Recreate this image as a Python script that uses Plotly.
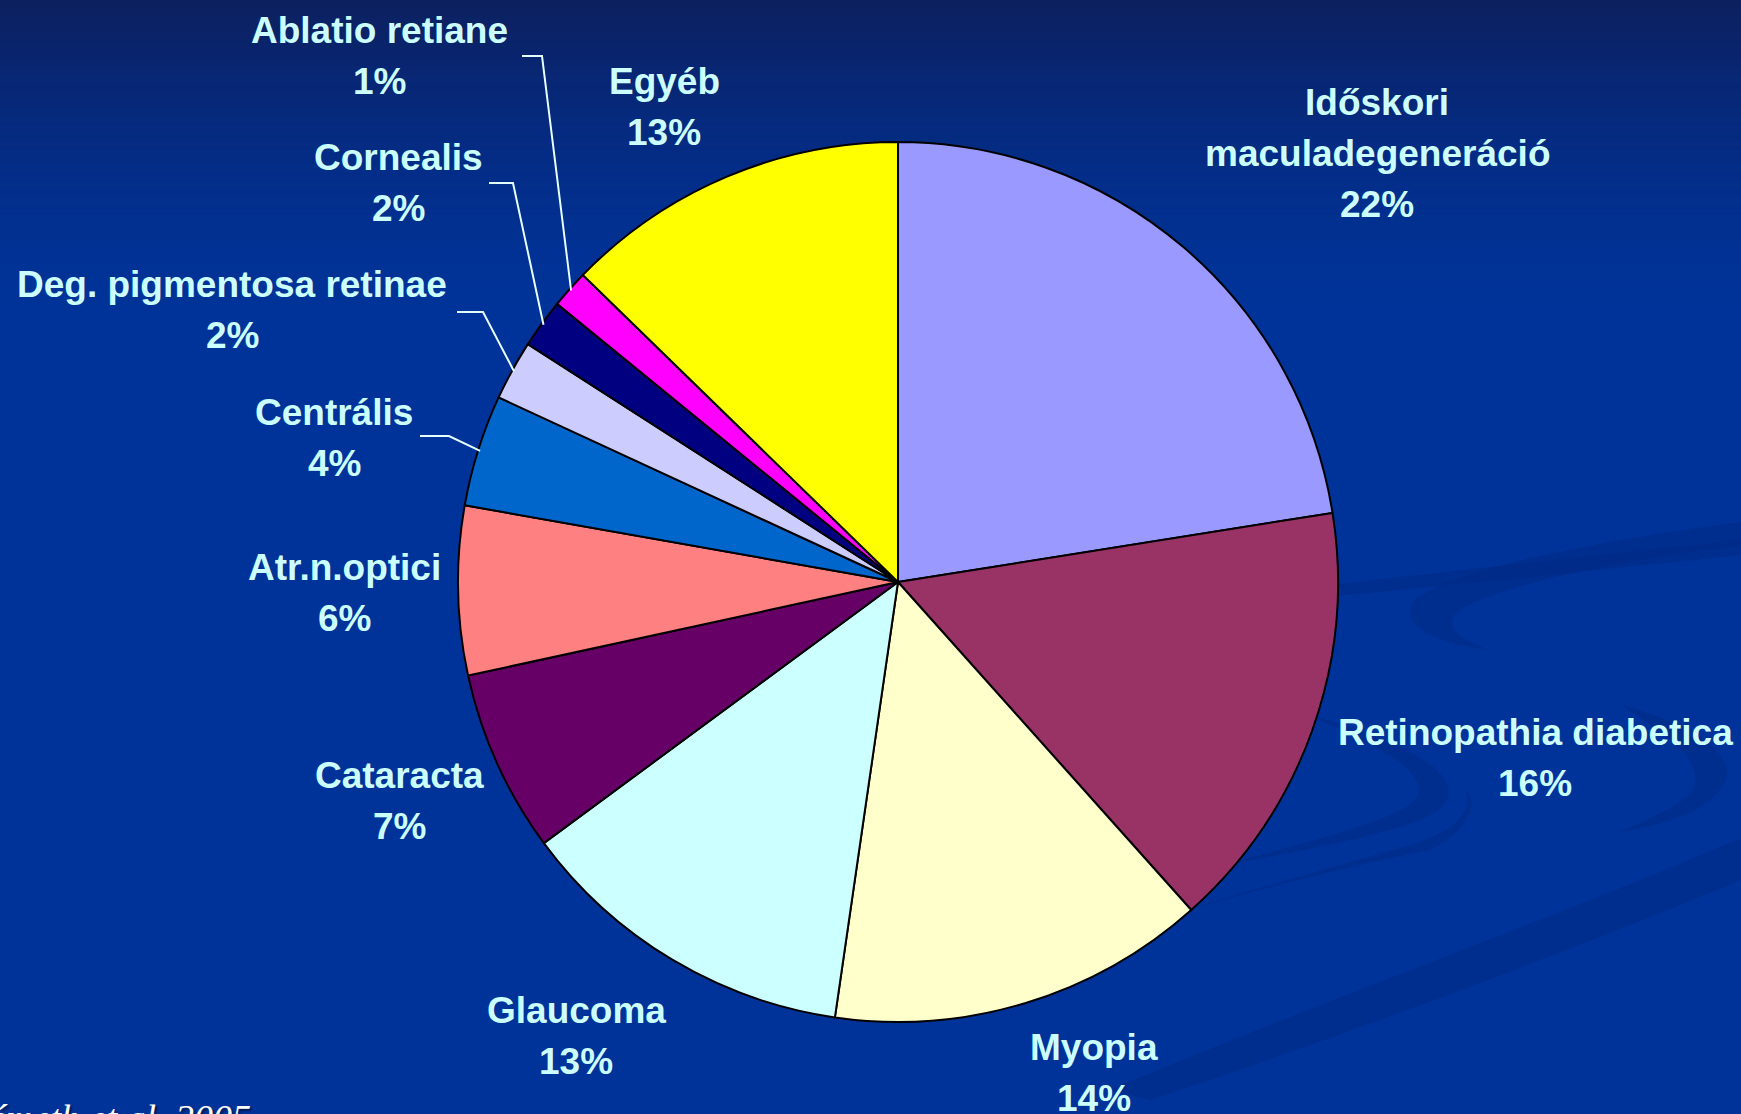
import math
import plotly.graph_objects as go

# ---------------- data ----------------
labels = ["Időskori<br>maculadegeneráció", "Retinopathia diabetica", "Myopia", "Glaucoma",
          "Cataracta", "Atr.n.optici", "Centrális", "Deg. pigmentosa retinae",
          "Cornealis", "Ablatio retiane", "Egyéb"]
values = [22.49, 15.9, 13.9, 12.6, 6.7, 6.2, 4.1, 2.2, 1.8, 1.4, 12.71]
colors = ["#9999FF", "#993366", "#FFFFCC", "#CCFFFF", "#660066", "#FF8080",
          "#0066CC", "#CCCCFF", "#000080", "#FF00FF", "#FFFF00"]

# label positions: (center x, y of first line) in slide pixels - layout only
label_pos = [(1377, 102), (1535, 732), (1094, 1047), (576, 1010), (399, 775),
             (344, 567), (334, 412), (232, 284), (398, 157), (379, 30), (664, 81)]
LINE_GAP = 51
# elbow start for leader lines (index -> (x0, x1, y))
leaders = {6: (420, 449, 436), 7: (457, 483, 312), 8: (489, 513, 183), 9: (522, 542, 56)}

W, H = 1741, 1114
cx, cy, R = 898, 582, 440

fig = go.Figure()

fig.add_trace(go.Pie(
    labels=[l.replace("<br>", " ") for l in labels], values=values, sort=False,
    direction="clockwise", rotation=0,
    marker=dict(colors=colors, line=dict(color="black", width=2)),
    textinfo="none", hoverinfo="label+percent", showlegend=False,
    domain=dict(x=[(cx - R) / W, (cx + R) / W], y=[(H - cy - R) / H, (H - cy + R) / H]),
))

# invisible cartesian trace to define pixel-space axes
fig.add_trace(go.Scatter(x=[0, W], y=[0, H], mode="markers",
                         marker=dict(opacity=0), hoverinfo="skip", showlegend=False))

shapes = []
# background vertical gradient at top
top = (12, 32, 96)
base = (0, 51, 153)
steps = 40
gh = 330
for i in range(steps):
    t = i / (steps - 1)
    f = (1 - t) ** 1.6
    c = tuple(int(round(base[k] + (top[k] - base[k]) * f)) for k in range(3))
    shapes.append(dict(type="rect", xref="x", yref="y", x0=0, x1=W,
                       y0=i * gh / steps, y1=(i + 1) * gh / steps + 1,
                       fillcolor="rgb(%d,%d,%d)" % c, line=dict(width=0), layer="below"))

swoosh = "rgba(0,40,130,0.45)"
paths = [
    "M 1110 1090 C 1350 990, 1550 920, 1741 838 L 1741 880 C 1560 955, 1360 1030, 1150 1100 Z",
    "M 1741 522 C 1600 540, 1450 570, 1415 600 C 1395 625, 1440 645, 1490 650 "
    "C 1460 640, 1440 625, 1460 610 C 1500 585, 1620 560, 1741 545 Z",
    "M 1300 712 C 1400 740, 1460 770, 1447 800 C 1435 825, 1360 840, 1200 870 "
    "C 1340 835, 1410 815, 1418 795 C 1425 770, 1380 745, 1300 712 Z",
    "M 1620 705 C 1700 725, 1745 760, 1720 790 C 1700 815, 1660 825, 1620 832 "
    "C 1660 815, 1690 800, 1695 785 C 1700 760, 1670 735, 1620 705 Z",
    "M 1180 912 C 1290 880, 1380 860, 1430 850 C 1470 830, 1480 800, 1465 790 "
    "C 1475 815, 1450 835, 1400 848 C 1330 868, 1250 890, 1180 912 Z",
    "M 1330 585 C 1500 565, 1650 550, 1741 540 L 1741 555 C 1650 565, 1500 580, 1330 597 Z",
]
for p in paths:
    shapes.append(dict(type="path", xref="x", yref="y", path=p, fillcolor=swoosh,
                       line=dict(width=0), layer="below"))

# leader lines, ending at the slice mid-angle on the pie edge
total = sum(values)
cum = 0.0
mids = []
for v in values:
    mids.append((cum + v / 2) / total * 2 * math.pi)
    cum += v
for idx, (x0, x1, y) in leaders.items():
    a = mids[idx]
    ex = cx + (R - 2) * math.sin(a)
    ey = cy - (R - 2) * math.cos(a)
    shapes.append(dict(type="path", xref="x", yref="y",
                       path=f"M {x0} {y} L {x1} {y} L {ex:.1f} {ey:.1f}",
                       line=dict(color="#E6FFFF", width=2), layer="above"))

label_font = dict(family="Liberation Sans, Arial, sans-serif", size=37,
                  color="#CCFFFF", weight="bold")
annotations = []
for lab, v, (x, y) in zip(labels, values, label_pos):
    pct = int(math.floor(v / total * 100 + 0.5))
    lines = lab.split("<br>") + [f"{pct}%"]
    for i, line in enumerate(lines):
        annotations.append(dict(x=x, y=y + i * LINE_GAP, xref="x", yref="y",
                                showarrow=False, text=line, align="center",
                                xanchor="center", yanchor="middle", font=label_font))

annotations.append(dict(x=253, y=1113, yshift=-5, xref="x", yref="y", showarrow=False,
                        text="<i>Németh et al. 2005</i>", xanchor="right", yanchor="middle",
                        font=dict(family="Liberation Serif, Times New Roman, serif",
                                  size=38, color="white", shadow="2px 2px 2px #001a4d")))

fig.update_layout(
    width=W, height=H, margin=dict(l=0, r=0, t=0, b=0),
    paper_bgcolor="#003399", plot_bgcolor="rgba(0,0,0,0)",
    xaxis=dict(range=[0, W], visible=False, fixedrange=True, domain=[0, 1]),
    yaxis=dict(range=[H, 0], visible=False, fixedrange=True, domain=[0, 1]),
    shapes=shapes, annotations=annotations, showlegend=False,
)

fig.write_html("out.html", config={"displayModeBar": False},
               post_script="document.body.style.margin='0';document.body.style.overflow='hidden';")
